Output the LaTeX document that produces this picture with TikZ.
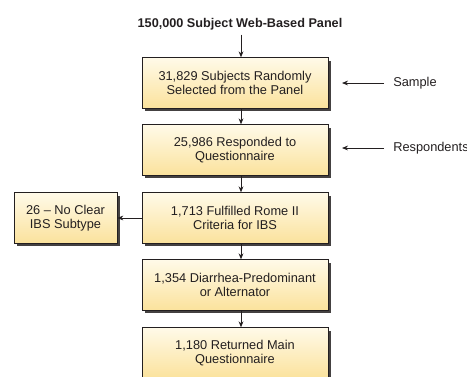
\documentclass[tikz,border=0pt]{standalone}
\usepackage{fontspec}
\setmainfont{Liberation Sans}
\usetikzlibrary{arrows.meta}
\definecolor{boxtop}{HTML}{FFFAE8}
\definecolor{boxbot}{HTML}{FBE29C}
\definecolor{ink}{HTML}{231F20}
\tikzset{
  px/.style={x=0.75pt,y=-0.75pt},
  flowbox/.style={draw=ink, line width=0.5pt, top color=boxtop, bottom color=boxbot,
    minimum width=139.5pt, minimum height=38pt, align=center, inner sep=0pt,
    font=\fontsize{9.6}{10.6}\selectfont, text=ink},
  shadowbox/.style={fill=ink!85, draw=none},
  arr/.style={draw=ink, line width=0.6pt, -{Stealth[length=4.5pt,width=3.6pt]}},
  sidelabel/.style={anchor=west, inner sep=0pt, font=\fontsize{9.6}{10.6}\selectfont, text=ink},
}
\begin{document}
\begin{tikzpicture}[px]
\useasboundingbox (0,0) rectangle (467,376);
\clip (0,0) rectangle (467,376);
% shadows
\foreach \cx/\cy/\w in {235/83/186, 235/150/186, 235/218/186, 65.5/218/103, 235/285/186, 235/353/186}{
  \fill[shadowbox] (\cx-\w/2+2.5,\cy-25+2.5) rectangle (\cx+\w/2+2.5,\cy+25+2.5);
}
\node[font=\bfseries\fontsize{9.5}{11}\selectfont, text=ink] (title) at (240,24) {150,000 Subject Web-Based Panel};
\node[flowbox] (b1) at (235,83) {31,829 Subjects Randomly\\Selected from the Panel};
\node[flowbox] (b2) at (235,150) {25,986 Responded to\\Questionnaire};
\node[flowbox] (b3) at (235,218) {1,713 Fulfilled Rome II\\Criteria for IBS};
\node[flowbox, minimum width=77.25pt] (bl) at (65.5,218) {26 -- No Clear\\IBS Subtype};
\node[flowbox] (b4) at (235,285) {1,354 Diarrhea-Predominant\\or Alternator};
\node[flowbox] (b5) at (235,353) {1,180 Returned Main\\Questionnaire};
% main arrows
\draw[arr] ([xshift=0.75pt]title.south) -- ([xshift=4.5pt]b1.north);
\draw[arr] ([xshift=4.5pt]b1.south) -- ([xshift=4.5pt]b2.north);
\draw[arr] ([xshift=4.5pt]b2.south) -- ([xshift=4.5pt]b3.north);
\draw[arr] ([xshift=4.5pt]b3.south) -- ([xshift=4.5pt]b4.north);
\draw[arr] ([xshift=4.5pt]b4.south) -- ([xshift=4.5pt]b5.north);
\draw[arr] (b3.west) -- (bl.east);
% side labels
\node[sidelabel] (sample) at (393,83) {Sample};
\node[sidelabel] (resp) at (393,148) {Respondents};
\coordinate (sa) at (384,83);
\coordinate (sb) at (342,83);
\coordinate (ra) at (384,148);
\coordinate (rb) at (342,148);
\draw[arr] (sa) -- (sb);
\draw[arr] (ra) -- (rb);
\end{tikzpicture}
\end{document}
